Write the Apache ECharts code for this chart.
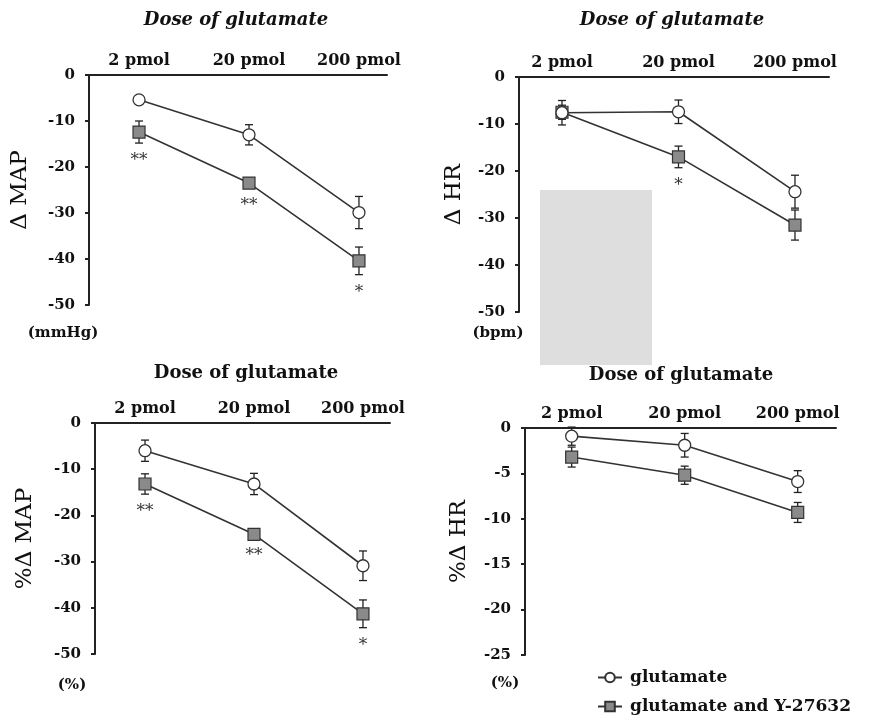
<!DOCTYPE html>
<html>
<head>
<meta charset="utf-8">
<script src="https://cdn.jsdelivr.net/npm/echarts@6/dist/echarts.min.js"></script>
<style>
html,body{margin:0;padding:0;background:#fff;}
#c{width:872px;height:722px;}
</style>
</head>
<body>
<div id="c"></div>
<script>
// ---------- data ----------
const doses = ['2 pmol', '20 pmol', '200 pmol'];
const seriesNames = ['glutamate', 'glutamate and Y-27632'];

// Δ MAP (mmHg)
const gluMAP = [-5.4, -13.0, -29.9];
const gluMAPse = [0.8, 2.2, 3.5];
const yMAP = [-12.4, -23.5, -40.4];
const yMAPse = [2.4, 1.0, 3.0];
const sigMAP = ['**', '**', '*'];

// Δ HR (bpm)
const gluHR = [-7.6, -7.4, -24.4];
const gluHRse = [2.6, 2.5, 3.5];
const yHR = [-7.5, -17.0, -31.5];
const yHRse = [1.5, 2.3, 3.2];
const sigHR = ['', '*', ''];

// %Δ MAP
const gluPMAP = [-6.0, -13.2, -30.9];
const gluPMAPse = [2.3, 2.3, 3.2];
const yPMAP = [-13.2, -24.1, -41.3];
const yPMAPse = [2.2, 0.8, 3.0];
const sigPMAP = ['**', '**', '*'];

// %Δ HR
const gluPHR = [-0.9, -1.9, -5.9];
const gluPHRse = [1.0, 1.3, 1.2];
const yPHR = [-3.2, -5.2, -9.3];
const yPHRse = [1.1, 1.0, 1.1];
const sigPHR = ['', '', ''];

// y-axis ticks
const yTicksA = {min: -50, max: 0, interval: 10};
const yTicksB = {min: -25, max: 0, interval: 5};

// ---------- layout ----------
const SERIF = '"DejaVu Serif", "Liberation Serif", serif';
const panels = [
  {grid: {left: 89, top: 75, width: 298, height: 230}, xr: [-0.455, 2.255], yt: yTicksA,
   name: 'Δ MAP', gap: 57, glu: gluMAP, gluse: gluMAPse, y: yMAP, yse: yMAPse, sig: sigMAP},
  {grid: {left: 519, top: 77, width: 310, height: 235}, xr: [-0.369, 2.292], yt: yTicksA,
   name: 'Δ HR', gap: 53, glu: gluHR, gluse: gluHRse, y: yHR, yse: yHRse, sig: sigHR},
  {grid: {left: 95, top: 423, width: 295, height: 231}, xr: [-0.459, 2.248], yt: yTicksA,
   name: '%Δ MAP', gap: 58, glu: gluPMAP, gluse: gluPMAPse, y: yPMAP, yse: yPMAPse, sig: sigPMAP},
  {grid: {left: 525, top: 428, width: 311, height: 227}, xr: [-0.413, 2.339], yt: yTicksB,
   name: '%Δ HR', gap: 54, glu: gluPHR, gluse: gluPHRse, y: yPHR, yse: yPHRse, sig: sigPHR}
];

const grids = [], xAxes = [], yAxes = [], series = [];

function errRender(means, ses, sigs) {
  return function (params, api) {
    const i = params.dataIndex;
    const x = api.value(0), m = api.value(1), s = api.value(2);
    const top = api.coord([x, m + s]);
    const bot = api.coord([x, m - s]);
    const cw = 4;
    const st = {stroke: '#222', lineWidth: 1.3};
    const children = [
      {type: 'line', shape: {x1: top[0], y1: top[1], x2: bot[0], y2: bot[1]}, style: st},
      {type: 'line', shape: {x1: top[0] - cw, y1: top[1], x2: top[0] + cw, y2: top[1]}, style: st},
      {type: 'line', shape: {x1: bot[0] - cw, y1: bot[1], x2: bot[0] + cw, y2: bot[1]}, style: st}
    ];
    if (sigs && sigs[i]) {
      children.push({type: 'text', style: {text: sigs[i], x: bot[0], y: bot[1] + 9,
        align: 'center', verticalAlign: 'top', fontSize: 17, fontFamily: SERIF, fill: '#333'}});
    }
    return {type: 'group', children: children};
  };
}

panels.forEach(function (p, k) {
  grids.push(Object.assign({containLabel: false}, p.grid));
  xAxes.push({
    type: 'value', gridIndex: k, position: 'top', min: p.xr[0], max: p.xr[1],
    axisLine: {show: true, onZero: false, lineStyle: {color: '#222', width: 2}},
    axisTick: {show: false},
    splitLine: {show: false},
    axisLabel: {
      customValues: [0, 1, 2],
      formatter: function (v) { return doses[Math.round(v)]; },
      margin: 6, fontSize: 16, fontWeight: 'bold', fontFamily: SERIF, color: '#111'
    }
  });
  yAxes.push({
    type: 'value', gridIndex: k, min: p.yt.min, max: p.yt.max, interval: p.yt.interval,
    name: p.name, nameLocation: 'middle', nameRotate: 90, nameGap: p.gap,
    nameTextStyle: {fontSize: 23, fontFamily: SERIF, color: '#111'},
    axisLine: {show: true, onZero: false, lineStyle: {color: '#222', width: 2}},
    axisTick: {show: true, length: 4, lineStyle: {color: '#222', width: 2}},
    splitLine: {show: false},
    axisLabel: {margin: 14, fontSize: 15, fontWeight: 'bold', fontFamily: SERIF, color: '#111'}
  });
  const gluData = p.glu.map(function (v, i) { return [i, v]; });
  const yData = p.y.map(function (v, i) { return [i, v]; });
  const gluErr = p.glu.map(function (v, i) { return [i, v, p.gluse[i]]; });
  const yErr = p.y.map(function (v, i) { return [i, v, p.yse[i]]; });
  series.push({
    type: 'custom', xAxisIndex: k, yAxisIndex: k, z: 1, silent: true,
    renderItem: errRender(p.glu, p.gluse, null), data: gluErr
  });
  series.push({
    type: 'custom', xAxisIndex: k, yAxisIndex: k, z: 1, silent: true,
    renderItem: errRender(p.y, p.yse, p.sig), data: yErr
  });
  series.push({
    name: seriesNames[1], type: 'line', xAxisIndex: k, yAxisIndex: k, z: 3,
    data: yData, symbol: 'rect', symbolSize: 12,
    lineStyle: {color: '#333', width: 1.6},
    itemStyle: {color: '#8a8a8a', borderColor: '#333', borderWidth: 1.2},
    animation: false
  });
  series.push({
    name: seriesNames[0], type: 'line', xAxisIndex: k, yAxisIndex: k, z: 4,
    data: gluData, symbol: 'circle', symbolSize: 12,
    lineStyle: {color: '#333', width: 1.6},
    itemStyle: {color: '#ffffff', borderColor: '#333', borderWidth: 1.3},
    animation: false
  });
});

function txt(t, x, y, size, weight, style) {
  return {type: 'text', x: x, y: y, z: 10,
    style: {text: t, align: 'center', verticalAlign: 'middle', fontSize: size,
      fontWeight: weight || 'bold', fontStyle: style || 'normal', fontFamily: SERIF, fill: '#111'}};
}

const option = {
  animation: false,
  backgroundColor: '#ffffff',
  grid: grids,
  xAxis: xAxes,
  yAxis: yAxes,
  series: series,
  legend: {
    data: seriesNames, orient: 'vertical', left: 592, top: 664,
    itemWidth: 24, itemHeight: 12, itemGap: 12,
    textStyle: {fontSize: 17, fontWeight: 'bold', fontFamily: SERIF, color: '#111', padding: [0, 0, 0, 3]}
  },
  graphic: [
    {type: 'rect', shape: {x: 540, y: 190, width: 112, height: 175}, z: 0,
     style: {fill: '#dedede'}},
    txt('Dose of glutamate', 236, 20, 18, 'bold', 'italic'),
    txt('Dose of glutamate', 672, 20, 18, 'bold', 'italic'),
    txt('Dose of glutamate', 246, 373, 18, 'bold'),
    txt('Dose of glutamate', 681, 375, 18, 'bold'),
    txt('(mmHg)', 63, 333, 15),
    txt('(bpm)', 498, 333, 15),
    txt('(%)', 72, 685, 15),
    txt('(%)', 505, 683, 15)
  ]
};

const chart = echarts.init(document.getElementById('c'), null, {renderer: 'canvas'});
chart.setOption(option);
</script>
</body>
</html>
